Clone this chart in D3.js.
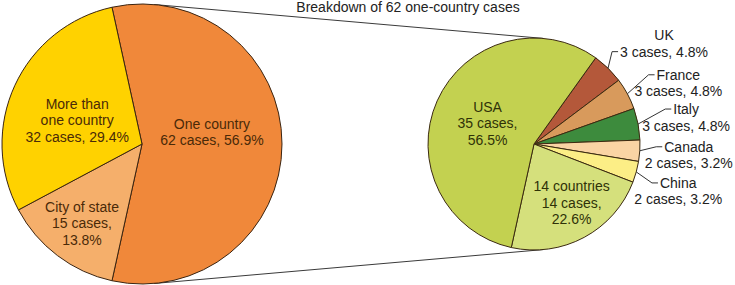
<!DOCTYPE html>
<html>
<head>
<meta charset="utf-8">
<script src="https://cdn.jsdelivr.net/npm/d3@7"></script>
<style>
  body { margin: 0; background: #fff; }
  text { font-family: "Liberation Sans", Arial, sans-serif; font-size: 14px; }
</style>
</head>
<body>
<script>
// left pie: all cases
const mainCats = ["One country", "City of state", "More than one country"]
const mainVals = [62, 15, 32]
const mainColors = ["#F0883A", "#F5AF6B", "#FFD200"]

// right pie: breakdown of one-country cases
const subCats = ["UK", "France", "Italy", "Canada", "China", "14 countries", "USA"]
const subVals = [3, 3, 3, 2, 2, 14, 35]
const subColors = ["#B4583A", "#D89A5C", "#3D8B3D", "#FAD4A4", "#FCEE86", "#D5E07C", "#C3D150"]

const title = "Breakdown of 62 one-country cases"

function main(){
    const width = 735, height = 285
    const lineH = 16.5

    const svg = d3.select("body").append("svg")
        .attr("width", width)
        .attr("height", height)

    const left = {cx: 142, cy: 144, r: 140}
    const right = {cx: 534, cy: 144, r: 106}

    // connector lines = outer tangents of both circles
    const D = right.cx - left.cx
    const cb = (left.r - right.r) / D, sb = Math.sqrt(1 - cb * cb)
    ;[-1, 1].forEach(s => {
        const nx = cb, ny = s * sb
        svg.append("line")
            .attr("x1", left.cx + left.r * nx).attr("y1", left.cy + left.r * ny)
            .attr("x2", right.cx + right.r * nx).attr("y2", right.cy + right.r * ny)
            .attr("stroke", "#3a3a3a").attr("stroke-width", 1)
    })

    svg.append("text")
        .attr("x", 408).attr("y", 11.5)
        .attr("text-anchor", "middle")
        .attr("fill", "#222")
        .text(title)

    const pct = (v, t) => (v / t * 100).toFixed(1) + "%"

    // ---- left pie
    const mainTotal = d3.sum(mainVals)
    const a0 = Math.PI / 2 - (mainVals[0] / mainTotal) * Math.PI
    const pieL = d3.pie().sort(null).startAngle(a0).endAngle(a0 + 2 * Math.PI)
    const arcsL = pieL(mainVals)
    const arcL = d3.arc().innerRadius(0).outerRadius(left.r)

    const gL = svg.append("g").attr("transform", `translate(${left.cx},${left.cy})`)
    gL.selectAll("path").data(arcsL).enter().append("path")
        .attr("d", arcL)
        .attr("fill", (d, i) => mainColors[i])
        .attr("stroke", "#3b2410").attr("stroke-width", 1)

    const mainLabelLayout = [
        {k: 0.5, dy: -12, lines: (c, v, p) => [c, v + " cases, " + p]},
        {k: 0.71, dy: 0, lines: (c, v, p) => [c, v + " cases,", p]},
        {k: 0.51, dy: 6, lines: (c, v, p) => ["More than", "one country", v + " cases, " + p]}
    ]
    arcsL.forEach((d, i) => {
        const L = mainLabelLayout[i]
        const c = d3.arc().innerRadius(left.r * L.k).outerRadius(left.r * L.k).centroid(d)
        const lines = L.lines(mainCats[i], mainVals[i], pct(mainVals[i], mainTotal))
        const y0 = c[1] + L.dy - (lines.length - 1) * lineH / 2
        lines.forEach((t, j) => {
            gL.append("text")
                .attr("x", c[0]).attr("y", y0 + j * lineH + 5)
                .attr("text-anchor", "middle")
                .attr("fill", "#4a2a08")
                .text(t)
        })
    })

    // ---- right pie
    const subTotal = d3.sum(subVals)
    const b0 = 35.6 * Math.PI / 180
    const pieR = d3.pie().sort(null).startAngle(b0).endAngle(b0 + 2 * Math.PI)
    const arcsR = pieR(subVals)
    const arcR = d3.arc().innerRadius(0).outerRadius(right.r)

    const gR = svg.append("g").attr("transform", `translate(${right.cx},${right.cy})`)
    gR.selectAll("path").data(arcsR).enter().append("path")
        .attr("d", arcR)
        .attr("fill", (d, i) => subColors[i])
        .attr("stroke", "#3b2a10").attr("stroke-width", 1)

    // inside labels (14 countries, USA)
    const insideLayout = {
        "14 countries": {k: 0.65, dx: 5, dy: -2},
        "USA": {k: 0.48, dx: 0, dy: 0}
    }
    // outside labels: offset of first-line centre from the slice's outer point
    const outsideLayout = {
        "UK": {dx: 56, dy: -33, hook: 1},
        "France": {dx: 51, dy: -19, hook: 0},
        "Italy": {dx: 48, dy: -15, hook: 0},
        "Canada": {dx: 49, dy: -4, hook: 0},
        "China": {dx: 42, dy: 11, hook: 0}
    }

    arcsR.forEach((d, i) => {
        const name = subCats[i]
        const p = pct(subVals[i], subTotal)
        if (insideLayout[name]) {
            const L = insideLayout[name]
            const c = d3.arc().innerRadius(right.r * L.k).outerRadius(right.r * L.k).centroid(d)
            const lines = [name, subVals[i] + " cases,", p]
            const y0 = c[1] + L.dy - (lines.length - 1) * lineH / 2
            lines.forEach((t, j) => {
                gR.append("text")
                    .attr("x", c[0] + L.dx).attr("y", y0 + j * lineH + 5)
                    .attr("text-anchor", "middle")
                    .attr("fill", "#2f3208")
                    .text(t)
            })
        } else {
            const L = outsideLayout[name]
            const edge = d3.arc().innerRadius(right.r).outerRadius(right.r).centroid(d)
            const lx = edge[0] + L.dx, ly = edge[1] + L.dy
            const lines = [name, subVals[i] + " cases, " + p]
            const nodes = lines.map((t, j) => gR.append("text")
                .attr("x", lx).attr("y", ly + j * lineH + 5)
                .attr("text-anchor", "middle")
                .attr("fill", "#222")
                .text(t))
            const w = nodes[L.hook].node().getComputedTextLength()
            const ex = lx - w / 2 - 2, ey = ly + L.hook * lineH
            gR.append("polyline")
                .attr("points", [[edge[0], edge[1]], [ex - 6, ey], [ex, ey]].map(q => q.join(",")).join(" "))
                .attr("fill", "none")
                .attr("stroke", "#333")
                .attr("stroke-width", 1)
        }
    })
}

main()
</script>
</body>
</html>
